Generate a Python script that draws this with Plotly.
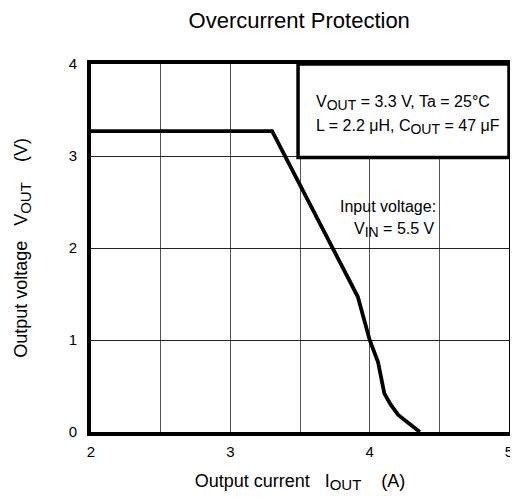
import plotly.graph_objects as go

# Overcurrent protection curve
iout = [2.0, 3.30, 3.915, 3.955, 4.0, 4.06, 4.105, 4.15, 4.205, 4.36]
vout = [3.27, 3.27, 1.47, 1.25, 1.0, 0.76, 0.42, 0.30, 0.185, 0.0]

x_ticks = [2, 3, 4, 5]
y_ticks = [0, 1, 2, 3, 4]

FONT = "Liberation Sans, Arial, sans-serif"


def sub(s, size=13):
    return f"<sub><span style='font-size:{size}px'>{s}</span></sub>"


fig = go.Figure()

fig.add_trace(go.Scatter(
    x=iout,
    y=vout,
    mode="lines",
    line=dict(color="black", width=3.8),
    showlegend=False,
    hoverinfo="skip",
))

# Conditions box (white, thick frame)
fig.add_shape(
    type="rect", xref="x", yref="y",
    x0=3.486, x1=5.0, y0=2.985, y1=4.0,
    fillcolor="white", line=dict(color="black", width=3.5), layer="above",
)

txt_font = dict(family=FONT, size=16, color="black")
fig.add_annotation(
    x=3.6, y=3.58, xref="x", yref="y", xanchor="left", yanchor="middle",
    text="V" + sub("OUT", 14) + " = 3.3 V, Ta = 25°C",
    showarrow=False, font=txt_font,
)
fig.add_annotation(
    x=3.6, y=3.31, xref="x", yref="y", xanchor="left", yanchor="middle",
    text="L = 2.2 μH, C" + sub("OUT", 14) + " = 47 μF",
    showarrow=False, font=txt_font,
)
fig.add_annotation(
    x=4.49, y=2.45, xref="x", yref="y", xanchor="right", yanchor="middle",
    text="Input voltage:",
    showarrow=False, font=txt_font,
)
fig.add_annotation(
    x=4.485, y=2.2, xref="x", yref="y", xanchor="right", yanchor="middle",
    text="V" + sub("IN", 14) + " = 5.5 V",
    showarrow=False, font=txt_font,
)

# the page body adds an 8px margin, so the figure is 8px smaller on each axis
fig.update_layout(
    width=510,
    height=493,
    margin=dict(l=83, r=9, t=56, b=69),
    paper_bgcolor="white",
    plot_bgcolor="white",
    font=dict(family=FONT, size=15, color="black"),
    title=dict(
        text="Overcurrent Protection",
        x=0.571, xanchor="center", y=0.976, yanchor="middle",
        font=dict(family=FONT, size=22, color="black"),
    ),
)

fig.update_xaxes(
    range=[2, 5],
    tickvals=x_ticks,
    ticktext=[str(t) for t in x_ticks],
    showgrid=True, gridcolor="#555555", gridwidth=1,
    minor=dict(dtick=0.5, showgrid=True, gridcolor="#555555", gridwidth=1),
    showline=True, linecolor="black", linewidth=4, mirror=True,
    ticks="", ticklabelstandoff=3, zeroline=False, automargin=False,
    tickfont=dict(family=FONT, size=15),
    title=dict(text="Output current   I" + sub("OUT", 15) + "    (A)", standoff=16,
               font=dict(family=FONT, size=18)),
)
fig.update_yaxes(
    range=[0, 4],
    tickvals=y_ticks,
    ticktext=[str(t) for t in y_ticks],
    showgrid=True, gridcolor="#222222", gridwidth=1,
    showline=True, linecolor="black", linewidth=4, mirror=True,
    ticks="", ticklabelstandoff=7, zeroline=False, automargin=False,
    tickfont=dict(family=FONT, size=15),
    title=dict(text="Output voltage   V" + sub("OUT", 15) + "    (V)", standoff=37,
               font=dict(family=FONT, size=18)),
)

fig.write_html("out.html")
